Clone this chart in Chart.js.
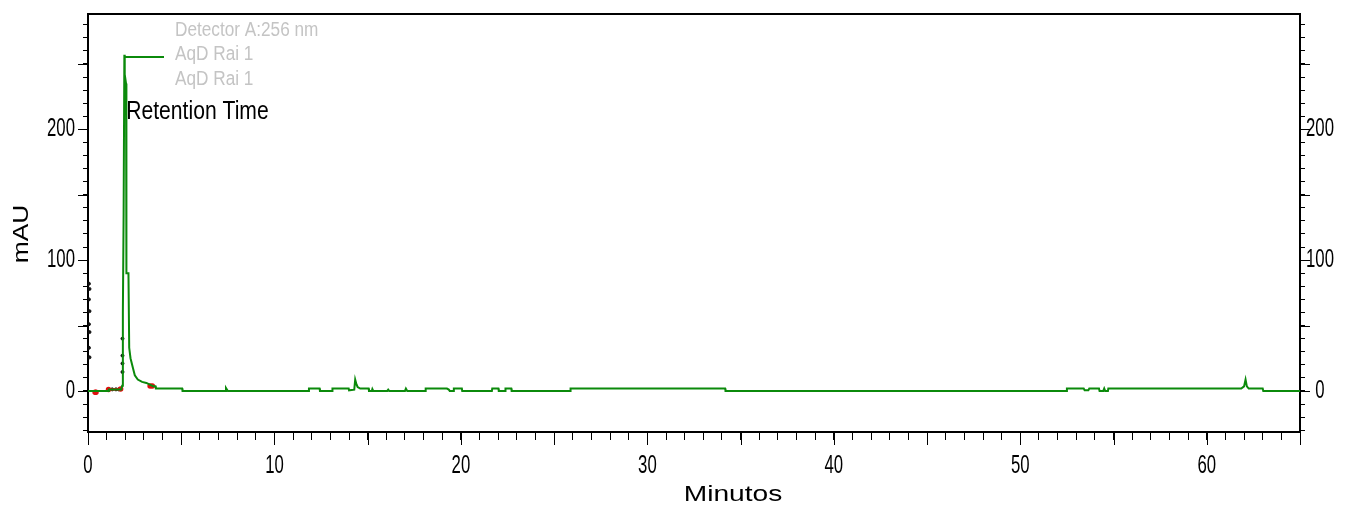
<!DOCTYPE html>
<html>
<head>
<meta charset="utf-8">
<script src="https://cdn.jsdelivr.net/npm/chart.js@4"></script>
<style>
  body { margin: 0; background: #fff; }
  #cromatograma { display: block; }
</style>
</head>
<body>
<canvas id="cromatograma" width="1347" height="508"></canvas>
<script>
// trace Detector A 256 nm (minutes / mAU)
const minutos = [0, 1.1, 1.12, 1.78, 1.83, 1.87, 1.91, 1.95, 1.97, 2.04, 2.06, 2.17, 2.21, 2.28, 2.42, 2.51, 2.67, 2.9, 3.13, 3.49, 3.62, 3.64, 5.05, 5.07,
  7.37, 7.4, 7.5, 11.83, 11.85, 12.42, 12.44, 13.09, 13.11, 13.98, 14.0, 14.28, 14.33, 14.4, 14.46, 14.6, 15.05, 15.07,
  15.22, 15.25, 15.3, 16.05, 16.1, 16.15, 17.0, 17.05, 17.12, 18.09, 18.11, 19.25, 19.35, 19.4, 19.6, 19.62, 20.05, 20.07,
  21.66, 21.68, 22.01, 22.03, 22.37, 22.39, 22.7, 22.72, 25.86, 25.88, 34.17, 34.19, 52.48, 52.5, 53.4, 53.45, 53.65, 53.7,
  54.22, 54.25, 54.45, 54.5, 54.55, 54.7, 54.72, 61.85, 62.0, 62.08, 62.15, 62.25, 63.0, 63.03, 65];
const mAU = [0, 0, 1, 1, 4, 60, 135, 257, 242, 235, 90, 90, 33, 25, 17, 12, 8.7, 6.9, 6.1, 3.6, 3.6, 1.8, 1.8, 0,
  0, 2.3, 0, 0, 1.8, 1.8, 0, 0, 1.8, 1.8, 0.5, 1, 8.7, 5, 3, 1.8, 1.8, 0,
  0, 1.5, 0, 0, 1, 0, 0, 1.8, 0, 0, 1.8, 1.8, 1, 0, 0, 1.8, 1.8, 0,
  0, 1.8, 1.8, 0, 0, 1.8, 1.8, 0, 0, 1.8, 1.8, 0, 0, 1.8, 1.8, 0.5, 0.5, 1.8,
  1.8, 0, 0, 1.8, 0, 0, 1.8, 1.8, 3.5, 8.7, 3.5, 1.8, 1.8, 0, 0];

// baseline marks (red) and retention time marks (black)
const rojoMin = [0.38, 0.43, 0.9, 1.1, 1.75, 2.5, 3.33, 3.45];
const rojoMAU = [-1, -1, null, 1, 1.5, null, 3.8, 3.8];
const negroMin = [0.05, 0.08, 0.05, 0.08, 0.05, 0.08, 0.05, 0.08, 1.3, 1.5, 1.65, 1.85, 1.85, 1.85, 1.85];
const negroMAU = [82, 78, 70, 61, 51, 45, 33, 25.7, 1.2, 1.2, 1.2, 40, 27, 21, 14.5];

const leyenda = ['Detector A:256 nm', 'AqD Rai 1', 'AqD Rai 1'];
const etiquetaPico = 'Retention Time';
const tituloX = 'Minutos';
const tituloY = 'mAU';

const yMin = -31.4, yMax = 288.2;
const fuente = "'Liberation Sans', Arial, sans-serif";

function puntos(xs, ys) {
  return xs.map((x, i) => ({ x: x, y: ys[i] }));
}

// text drawn with a horizontal squeeze/stretch, like the original bitmap font
function texto(ctx, t, x, y, size, sx, align) {
  ctx.save();
  ctx.font = size + 'px ' + fuente;
  ctx.textAlign = align || 'left';
  ctx.textBaseline = 'middle';
  ctx.translate(x, y);
  ctx.scale(sx, 1);
  ctx.fillText(t, 0, 0);
  ctx.restore();
}

const marco = {
  id: 'marco',
  afterDraw(chart) {
    const ctx = chart.ctx;
    const a = chart.chartArea;
    const sx = chart.scales.x, sy = chart.scales.y;
    ctx.save();
    ctx.strokeStyle = '#000';
    ctx.lineWidth = 2;
    ctx.beginPath();
    ctx.moveTo(a.left, a.top);
    ctx.lineTo(a.right, a.top);
    ctx.stroke();

    // longer ticks on 5 min / 50 mAU
    ctx.lineWidth = 1;
    ctx.beginPath();
    sx.ticks.forEach(t => {
      if (Math.round(t.value) % 5 === 0) {
        const px = Math.round(sx.getPixelForValue(t.value)) + 0.5;
        ctx.moveTo(px, a.bottom);
        ctx.lineTo(px, a.bottom + 13);
      }
    });
    sy.ticks.forEach(t => {
      if (Math.round(t.value) % 50 === 0) {
        const py = Math.round(sy.getPixelForValue(t.value)) + 0.5;
        ctx.moveTo(a.left - 10, py);
        ctx.lineTo(a.left, py);
        ctx.moveTo(a.right, py);
        ctx.lineTo(a.right + 10, py);
      }
    });
    ctx.stroke();

    // tick labels
    ctx.fillStyle = '#000';
    sx.ticks.forEach(t => {
      const v = Math.round(t.value);
      if (v % 10 === 0) texto(ctx, String(v), sx.getPixelForValue(v), a.bottom + 34, 25, 0.67, 'center');
    });
    sy.ticks.forEach(t => {
      const v = Math.round(t.value);
      if (v % 100 === 0) {
        const py = sy.getPixelForValue(v);
        texto(ctx, String(v), a.left - 13, py, 25, 0.67, 'right');
        texto(ctx, String(v), a.right + 20, py, 25, 0.67, 'center');
      }
    });

    // legend
    ctx.fillStyle = '#c4c4c4';
    leyenda.forEach((t, i) => texto(ctx, t, a.left + 87, a.top + 16 + i * 24.5, 20, 0.86, 'left'));
    ctx.strokeStyle = '#0b8a0b';
    ctx.lineWidth = 2;
    ctx.beginPath();
    ctx.moveTo(sx.getPixelForValue(1.95), a.top + 43);
    ctx.lineTo(a.left + 76, a.top + 43);
    ctx.stroke();

    // peak label
    ctx.fillStyle = '#000';
    texto(ctx, etiquetaPico, sx.getPixelForValue(2.05), sy.getPixelForValue(213), 25, 0.845, 'left');

    // axis titles
    texto(ctx, tituloX, 733, 495, 22, 1.28, 'center');
    ctx.translate(22, 234);
    ctx.rotate(-Math.PI / 2);
    texto(ctx, tituloY, 0, 0, 22, 1.2, 'center');
    ctx.restore();
  }
};

const ejeY = (pos, ancho) => ({
  type: 'linear',
  position: pos,
  min: yMin,
  max: yMax,
  afterFit(s) { s.width = ancho; },
  border: { color: '#000', width: 2 },
  grid: { drawOnChartArea: false, color: '#000', tickColor: '#000', tickLength: 5, tickWidth: 1 },
  ticks: { display: false, stepSize: 10, includeBounds: false, autoSkip: false }
});

new Chart(document.getElementById('cromatograma'), {
  type: 'scatter',
  data: {
    datasets: [
      {
        data: puntos(minutos, mAU),
        showLine: true,
        borderColor: '#0b8a0b',
        borderWidth: 2,
        pointRadius: 0,
        tension: 0
      },
      {
        data: puntos(rojoMin, rojoMAU),
        showLine: true,
        spanGaps: false,
        borderColor: '#e01010',
        backgroundColor: '#e01010',
        borderWidth: 2.5,
        pointRadius: 1.5
      },
      {
        data: puntos(negroMin, negroMAU),
        showLine: false,
        backgroundColor: '#111',
        borderColor: '#111',
        pointRadius: 1.5
      }
    ]
  },
  options: {
    responsive: false,
    animation: false,
    layout: { padding: { top: 14, left: 0, right: 0, bottom: 0 } },
    plugins: { legend: { display: false }, tooltip: { enabled: false } },
    scales: {
      x: {
        type: 'linear',
        position: 'bottom',
        min: 0,
        max: 65,
        afterFit(s) { s.height = 76; },
        border: { color: '#000', width: 2 },
        grid: { drawOnChartArea: false, color: '#000', tickColor: '#000', tickLength: 8 },
        ticks: { display: false, stepSize: 1, autoSkip: false, includeBounds: false }
      },
      y: ejeY('left', 88),
      y2: ejeY('right', 47)
    }
  },
  plugins: [marco]
});
</script>
</body>
</html>
